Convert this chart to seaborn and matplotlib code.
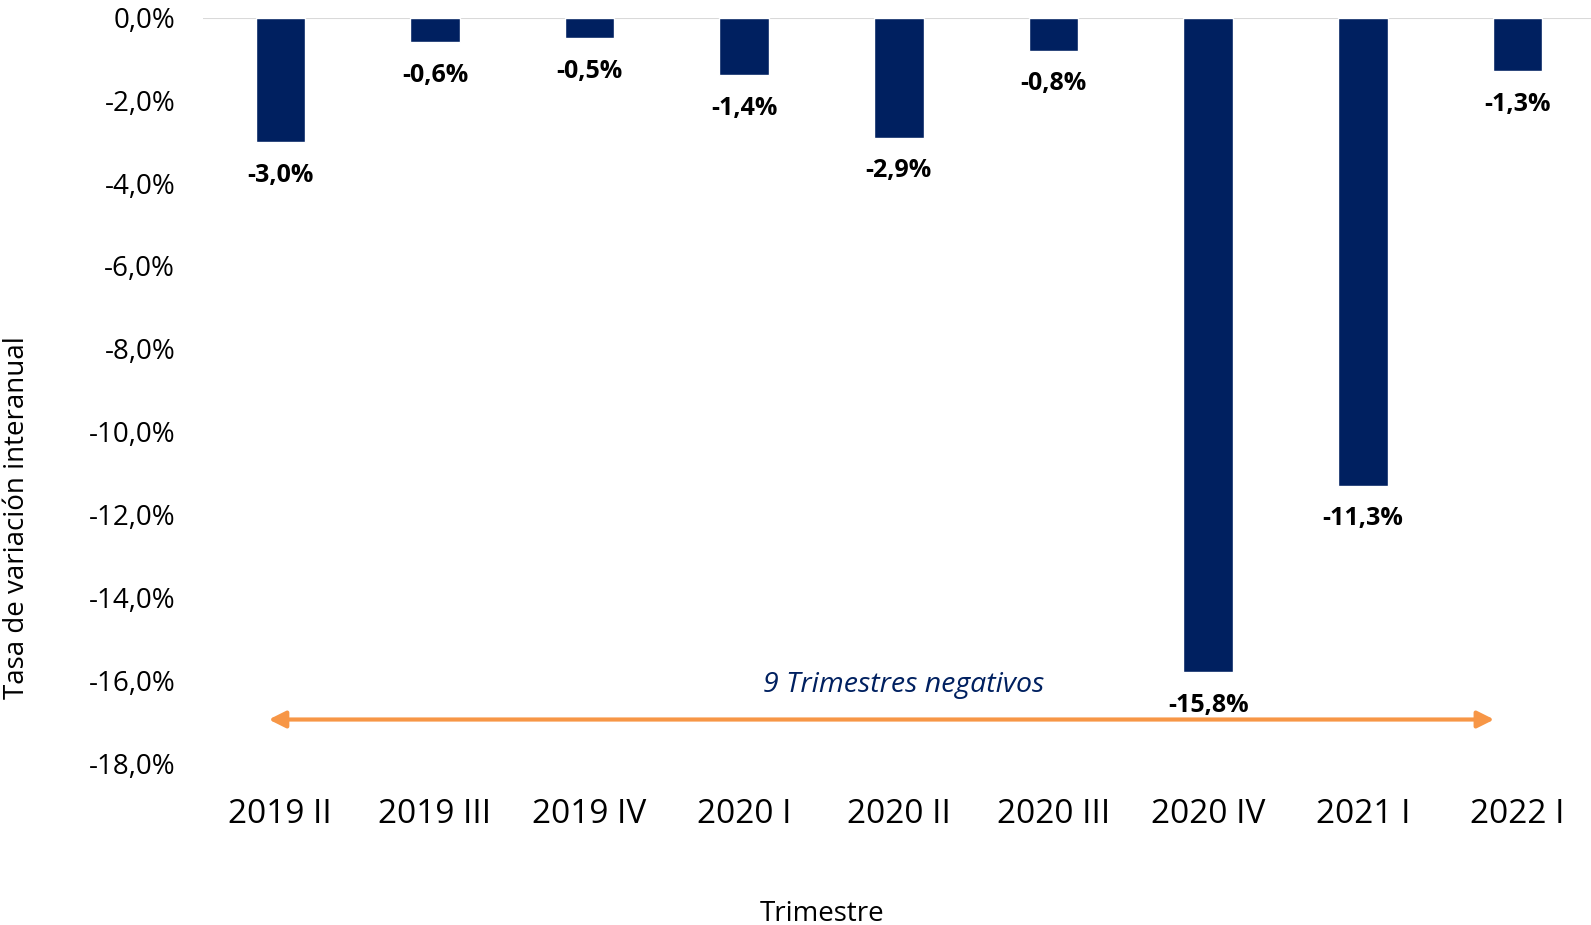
import matplotlib
matplotlib.use("Agg")
import matplotlib.pyplot as plt
import seaborn as sns
import pandas as pd

categories = ["2019 II", "2019 III", "2019 IV", "2020 I", "2020 II", "2020 III", "2020 IV", "2021 I", "2022 I"]
values = [-3.0, -0.6, -0.5, -1.4, -2.9, -0.8, -15.8, -11.3, -1.3]
yticks = [0, -2, -4, -6, -8, -10, -12, -14, -16, -18]
annotation_text = "9 Trimestres negativos"

sns.set_theme(style="white")
plt.rcParams['font.family'] = ['Open Sans', 'DejaVu Sans']

NAVY = "#002060"
ORANGE = "#F79646"

fig = plt.figure(figsize=(15.91, 9.25), dpi=100)
ax = fig.add_axes([203/1591, 1-763/925, 1-203/1591, (763-17.5)/925])

df = pd.DataFrame({"cat": categories, "val": values})
sns.barplot(data=df, x="cat", y="val", color=NAVY, width=0.32, saturation=1, ax=ax)

ax.set_ylim(-18, 0)
ax.set_xlim(-0.5, len(categories) - 0.524)
ax.set_yticks(yticks)
ax.set_yticklabels([f"{t:.1f}%".replace(".", ",") for t in yticks], fontsize=20, color="#000000")
ax.tick_params(axis="y", length=0, pad=20)
ax.tick_params(axis="x", length=0, pad=25, labelsize=24, labelcolor="#000000")
for s in ax.spines.values():
    s.set_visible(False)
ax.axhline(0, color="#D9D9D9", lw=1.5, zorder=0)
ax.set_xlabel("")
ax.set_ylabel("")

for i, v in enumerate(values):
    ax.annotate(f"{v:.1f}%".replace(".", ","), (i, v), xytext=(0, -24), textcoords="offset points",
                ha="center", va="center", fontsize=18, fontweight="bold", color="#000000")

ax.annotate("", xy=(7.85, -16.95), xytext=(-0.075, -16.95),
            arrowprops=dict(arrowstyle="<|-|>", color=ORANGE, lw=3, mutation_scale=25,
                            shrinkA=0, shrinkB=0), annotation_clip=False)
ax.text(4.03, -16.12, annotation_text, ha="center", va="center", fontsize=20.5,
        style="italic", color=NAVY)

fig.text(17/1591, 1-518/925, "Tasa de variación interanual", rotation=90, ha="center", va="center",
         fontsize=20, color="#000000")
fig.text(822/1591, 1-914/925, "Trimestre", ha="center", va="center", fontsize=20, color="#000000")

fig.savefig("out.png", dpi=100)
